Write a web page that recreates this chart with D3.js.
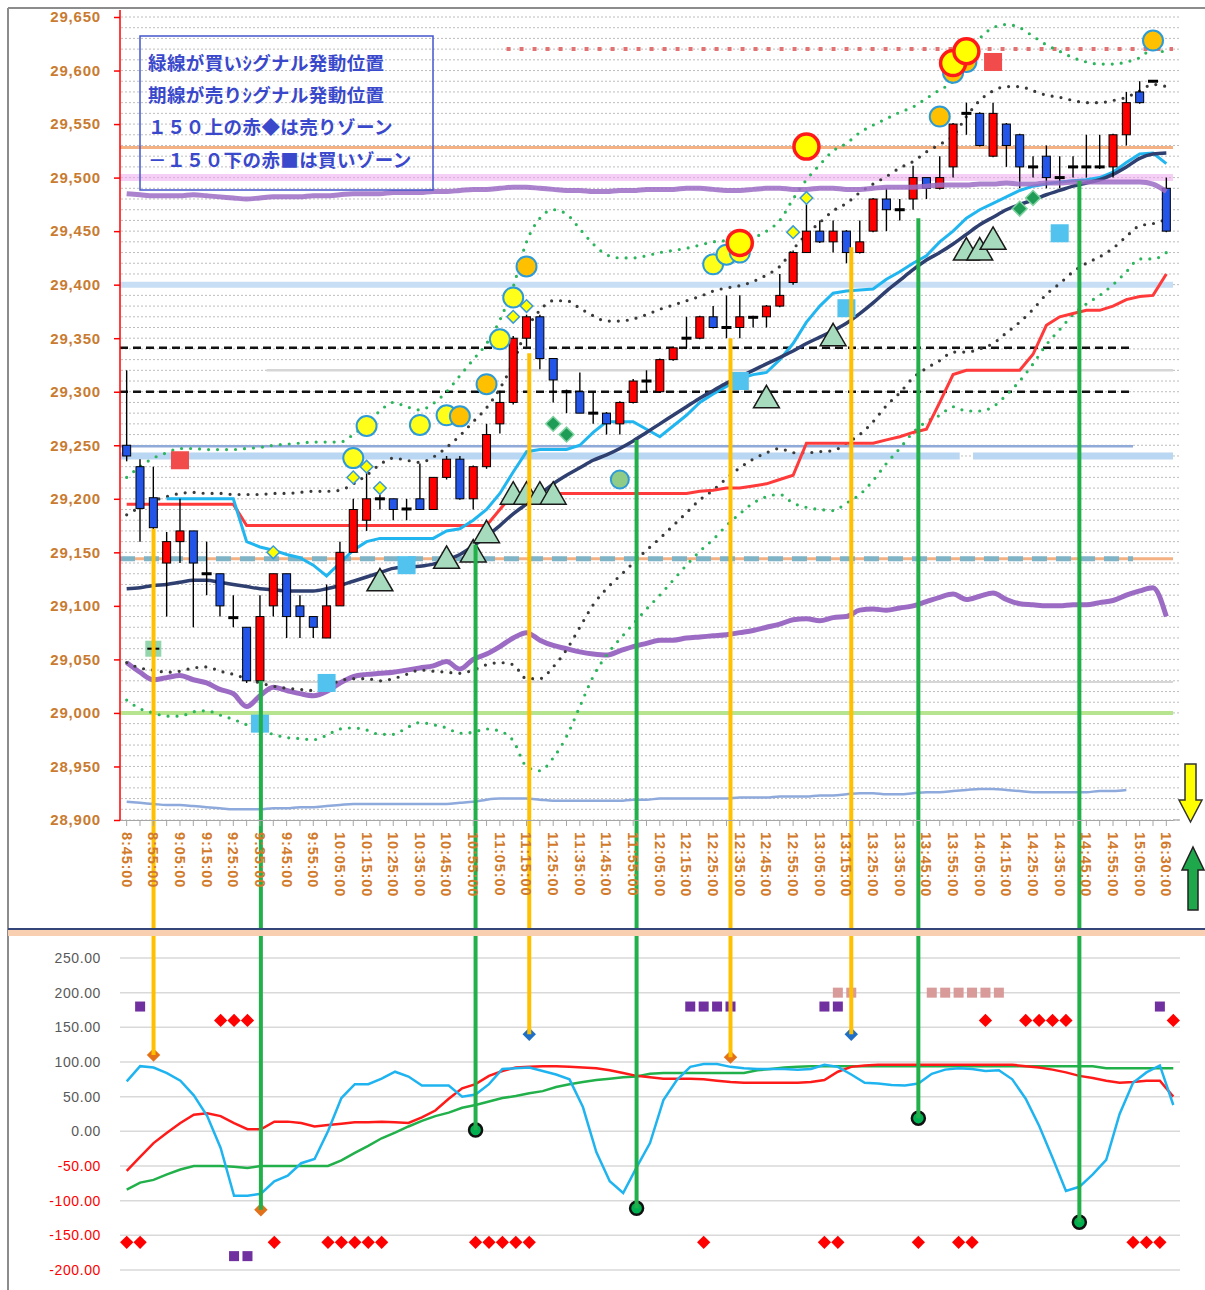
<!DOCTYPE html>
<html>
<head>
<meta charset="utf-8">
<script src="https://cdn.jsdelivr.net/npm/d3@7/dist/d3.min.js"></script>
<style>
  html, body { margin:0; padding:0; background:#ffffff; }
  svg { display:block; }
</style>
</head>
<body>
<svg id="chart" width="1205" height="1290"></svg>
<script>
// ================= DATA =================
const categories = ["8:45:00","8:50:00","8:55:00","9:00:00","9:05:00","9:10:00","9:15:00","9:20:00","9:25:00","9:30:00",
"9:35:00","9:40:00","9:45:00","9:50:00","9:55:00","10:00:00","10:05:00","10:10:00","10:15:00","10:20:00",
"10:25:00","10:30:00","10:35:00","10:40:00","10:45:00","10:50:00","10:55:00","11:00:00","11:05:00","11:10:00",
"11:15:00","11:20:00","11:25:00","11:30:00","11:35:00","11:40:00","11:45:00","11:50:00","11:55:00","12:00:00",
"12:05:00","12:10:00","12:15:00","12:20:00","12:25:00","12:30:00","12:35:00","12:40:00","12:45:00","12:50:00",
"12:55:00","13:00:00","13:05:00","13:10:00","13:15:00","13:20:00","13:25:00","13:30:00","13:35:00","13:40:00",
"13:45:00","13:50:00","13:55:00","14:00:00","14:05:00","14:10:00","14:15:00","14:20:00","14:25:00","14:30:00",
"14:35:00","14:40:00","14:45:00","14:50:00","14:55:00","15:00:00","15:05:00","15:10:00","16:30:00"];

const priceTicks = [28900,28950,29000,29050,29100,29150,29200,29250,29300,29350,29400,29450,29500,29550,29600,29650];
const oscTicks = [250,200,150,100,50,0,-50,-100,-150,-200];

const openP = [29250,29230,29201,29140,29160,29170,29131,29130,29090,29080,
 29030,29100,29130,29100,29090,29070,29100,29150,29180,29199,
 29200,29191,29200,29190,29220,29237,29200,29230,29270,29290,
 29350,29370,29331,29301,29300,29281,29280,29270,29290,29309,
 29300,29330,29349,29350,29370,29361,29360,29370,29370,29380,
 29402,29430,29450,29440,29450,29430,29450,29480,29471,29480,
 29500,29490,29510,29561,29560,29520,29550,29540,29511,29520,
 29501,29511,29511,29511,29510,29540,29580,29590,29490];
const highP = [29320,29237,29230,29169,29200,29170,29160,29130,29110,29080,
 29110,29130,29130,29110,29090,29120,29160,29200,29230,29210,
 29200,29200,29233,29220,29240,29240,29231,29270,29301,29352,
 29372,29372,29331,29302,29318,29300,29281,29291,29312,29320,
 29331,29342,29370,29371,29380,29390,29390,29371,29381,29410,
 29432,29480,29460,29460,29451,29460,29481,29490,29480,29511,
 29500,29520,29551,29570,29561,29570,29551,29541,29520,29530,
 29520,29520,29540,29540,29541,29580,29590,29591,29500];
const lowP = [29235,29160,29150,29090,29140,29080,29110,29090,29080,29028,
 29028,29090,29070,29070,29070,29070,29100,29150,29170,29190,
 29180,29180,29190,29190,29218,29199,29190,29228,29261,29288,
 29342,29321,29290,29280,29280,29270,29260,29260,29289,29300,
 29299,29329,29341,29349,29359,29350,29350,29360,29360,29379,
 29400,29430,29439,29430,29420,29429,29449,29450,29460,29470,
 29480,29489,29500,29540,29529,29519,29510,29490,29500,29490,
 29490,29500,29500,29508,29500,29530,29569,29589,29449];
const closeP = [29240,29191,29173,29160,29170,29140,29129,29100,29088,29030,
 29090,29130,29090,29090,29080,29100,29150,29190,29200,29201,
 29190,29190,29190,29220,29237,29200,29230,29260,29290,29350,
 29370,29331,29311,29299,29280,29279,29270,29290,29310,29311,
 29330,29341,29351,29370,29360,29359,29370,29369,29380,29390,
 29430,29450,29440,29450,29430,29440,29480,29470,29469,29500,
 29490,29500,29550,29559,29530,29560,29530,29510,29509,29500,
 29499,29509,29509,29509,29540,29570,29570,29590,29450];

// moving average (navy)
const maLine = [29116,29117,29119,29120,29122,29124,29124,29122,29120,29118,
 29116,29115,29114,29114,29114,29116,29119,29123,29127,29131,
 29135,29136,29137,29139,29143,29148,29156,29165,29175,29186,
 29195,29204,29214,29222,29229,29236,29241,29247,29254,29262,
 29270,29278,29286,29294,29301,29308,29314,29320,29326,29332,
 29338,29345,29351,29357,29364,29373,29383,29394,29404,29414,
 29423,29430,29438,29447,29456,29463,29470,29475,29479,29484,
 29488,29492,29495,29498,29503,29510,29518,29522,29523];
// outer bands (green dotted)
const bandUpper2 = [29220,29230,29238,29243,29247,29247,29246,29246,29246,29247,
 29248,29250,29251,29252,29253,29253,29253,29260,29270,29282,
 29290,29286,29283,29289,29300,29315,29330,29345,29367,29398,
 29440,29462,29470,29466,29452,29438,29428,29425,29425,29427,
 29430,29432,29434,29437,29440,29441,29442,29444,29450,29460,
 29480,29498,29512,29525,29532,29542,29549,29555,29561,29566,
 29574,29582,29590,29612,29630,29640,29643,29640,29632,29624,
 29618,29612,29608,29606,29606,29608,29612,29620,29616];
const bandLower2 = [29012,29004,29000,28997,28997,29001,29002,28998,28994,28989,
 28984,28980,28977,28976,28975,28979,28985,28986,28984,28980,
 28980,28986,28991,28989,28986,28981,28982,28985,28983,28974,
 28950,28946,28958,28978,29006,29034,29054,29069,29083,29097,
 29110,29124,29138,29151,29162,29175,29186,29196,29202,29204,
 29196,29192,29190,29189,29196,29204,29217,29233,29247,29262,
 29272,29278,29286,29282,29282,29286,29297,29310,29326,29344,
 29358,29372,29382,29390,29400,29412,29424,29424,29430];
// inner bands (black dotted)
const bandUpper1 = [29185,29192,29198,29202,29205,29206,29205,29205,29204,29204,
 29204,29205,29205,29206,29207,29207,29208,29214,29222,29232,
 29238,29236,29234,29239,29248,29259,29272,29285,29303,29327,
 29358,29376,29385,29385,29378,29371,29366,29366,29368,29372,
 29377,29381,29385,29389,29394,29397,29399,29403,29409,29417,
 29433,29447,29458,29469,29476,29486,29494,29501,29509,29515,
 29524,29531,29539,29557,29572,29581,29585,29585,29581,29577,
 29575,29572,29570,29570,29572,29575,29581,29587,29585];
const bandLower1 = [29047,29042,29040,29038,29039,29042,29043,29039,29036,29032,
 29028,29025,29023,29022,29021,29025,29030,29032,29032,29030,
 29032,29036,29040,29039,29038,29037,29040,29045,29047,29045,
 29032,29032,29043,29059,29080,29101,29116,29128,29140,29152,
 29163,29175,29187,29199,29208,29219,29229,29237,29243,29247,
 29243,29243,29244,29245,29252,29260,29272,29287,29299,29313,
 29322,29329,29337,29337,29340,29345,29355,29365,29377,29391,
 29401,29412,29420,29426,29434,29445,29455,29457,29461];
// fast line (light blue)
const fastLine = [null,null,null,29200,29200,29200,29200,29200,29200,29160,
 29155,29152,29148,29145,29138,29128,29140,29152,29160,29163,
 29163,29163,29163,29163,29170,29172,29180,29190,29205,29225,
 29244,29246,29246,29246,29250,29262,29272,29272,29272,29265,
 29258,29268,29278,29290,29298,29305,29312,29316,29318,29330,
 29345,29365,29380,29392,29394,29395,29396,29405,29412,29420,
 29427,29440,29450,29462,29470,29476,29482,29488,29492,29494,
 29496,29497,29498,29500,29505,29514,29522,29523,29513];
// base line (red step)
const baseLine = [29195,29195,29195,29195,29195,29195,29195,29195,29195,29175,
 29175,29175,29175,29175,29175,29175,29175,29175,29175,29175,
 29175,29175,29175,29175,29175,29175,29175,29175,29190,29205,
 29205,29205,29205,29205,29205,29205,29205,29205,29205,29205,
 29205,29205,29205,29207,29208,29210,29210,29212,29214,29218,
 29222,29252,29252,29252,29252,29252,29252,29255,29258,29262,
 29265,29290,29316,29320,29320,29320,29320,29320,29335,29362,
 29370,29373,29376,29376,29380,29386,29389,29390,29410];
// purple lines
const purpleUpper = [29485,29484,29483,29483,29483,29484,29483,29482,29481,29480,
 29481,29482,29482,29482,29483,29483,29484,29485,29485,29485,
 29486,29486,29486,29487,29487,29488,29489,29489,29490,29491,
 29491,29490,29489,29488,29488,29487,29487,29488,29488,29489,
 29489,29489,29490,29490,29489,29488,29488,29489,29490,29490,
 29489,29489,29490,29490,29489,29489,29490,29491,29491,29491,
 29492,29493,29493,29493,29494,29494,29495,29494,29494,29495,
 29495,29496,29496,29496,29496,29496,29496,29494,29487];
const purpleLower = [29047,29038,29031,29033,29035,29031,29028,29022,29018,29006,
 29016,29024,29021,29018,29016,29020,29028,29034,29036,29037,
 29038,29040,29042,29044,29048,29041,29050,29055,29062,29070,
 29075,29068,29063,29060,29057,29055,29054,29058,29062,29065,
 29068,29068,29070,29071,29072,29073,29075,29077,29080,29083,
 29087,29088,29086,29089,29090,29096,29097,29096,29098,29100,
 29104,29108,29111,29106,29109,29112,29106,29102,29101,29100,
 29100,29101,29101,29103,29105,29110,29114,29117,29090];
const bottomLine = [28917,28916,28915,28914,28914,28913,28912,28911,28910,28910,
 28910,28911,28911,28912,28912,28913,28914,28915,28915,28915,
 28915,28915,28915,28915,28915,28916,28917,28919,28920,28920,
 28920,28919,28918,28918,28918,28918,28918,28918,28919,28919,
 28920,28920,28920,28920,28920,28920,28921,28921,28921,28922,
 28922,28922,28923,28923,28924,28925,28925,28924,28924,28925,
 28926,28926,28927,28928,28929,28929,28928,28927,28926,28926,
 28926,28926,28926,28927,28927,28928];

// horizontal reference levels
const levelSellDots = 29620;
const levelOrange = 29528;
const levelPink = 29500;
const levelSky = 29400;
const levelDashA = 29341;
const levelGreyA = 29320;
const levelDashB = 29300;
const levelSteel = 29249;
const levelSkyB = 29240;
const levelTeal = 29144;
const levelGreyB = 29029;
const levelLime = 29000;

// markers on price panel: [category index, value]
const yellowCircles = [[17,29238],[18,29268],[22,29269],[24,29278],[28,29349],[29,29388],[44,29419],[45,29428],[46,29430]];
const orangeCircles = [[25,29277],[27,29307],[30,29417],[61,29557],[62,29598],[63,29608],[77,29628]];
const redRingCircles = [[46,29439],[51,29529],[62,29607],[63,29618]];
const yellowDiamonds = [[11,29150],[17,29220],[18,29230],[19,29210],[29,29370],[30,29380],[50,29449],[51,29481]];
const greenDiamonds = [[32,29270],[33,29260],[67,29471],[68,29481]];
const triangles = [[19,29121],[24,29142],[26,29148],[27,29166],[29,29202],[30,29202],[31,29202],[32,29202],[48,29292],[53,29350],[63,29430],[64,29430],[65,29440]];
const skySquares = [[10,28990],[15,29028],[21,29138],[46,29310],[54,29378],[70,29448]];
const redSquares = [[4,29236],[65,29608]];
const mintSquares = [[2,29060]];
const greenDots = [[37,29218]];

// oscillator panel
const oscFast = [72,94,92,84,73,52,22,-24,-93,-93,
 -90,-72,-64,-46,-40,0,48,68,68,76,
 86,79,66,66,66,50,53,68,90,91,
 92,87,82,75,35,-30,-72,-89,-52,-17,
 45,74,93,97,97,93,91,90,90,90,
 89,90,96,93,82,70,69,67,66,69,
 83,89,91,90,87,88,75,47,8,-38,
 -86,-80,-62,-41,25,70,85,95,38];
const oscMid = [-57,-37,-17,-2,12,24,26,22,12,3,
 3,14,14,12,7,9,11,13,13,14,
 13,12,20,30,47,62,68,80,87,92,
 93,94,94,93,92,91,88,84,80,78,
 76,76,76,75,73,71,70,70,70,70,
 70,71,74,86,93,95,96,96,96,96,
 96,96,96,96,96,96,96,94,92,89,
 85,80,77,73,70,71,73,73,50];
const oscSlow = [-84,-74,-70,-62,-55,-50,-50,-50,-51,-53,
 -50,-50,-50,-50,-50,-50,-42,-31,-21,-10,
 -2,7,15,22,27,34,38,43,48,51,
 55,58,64,68,71,74,76,78,79,83,
 84,84,84,84,84,84,84,88,90,92,
 93,94,94,94,94,94,94,94,94,94,
 94,94,94,94,94,94,94,94,94,94,
 94,94,94,91,91,91,91,91,91];
const sellZoneIdx = [7,8,9,64,67,68,69,70,78];           // red diamonds at +160
const sellZoneValue = 160;
const buyZoneIdx = [0,1,11,15,16,17,18,19,26,27,28,29,30,43,52,53,59,62,63,75,76,77]; // red diamonds at -160
const buyZoneValue = -160;
const purpleMarks = [[1,180],[8,-180],[9,-180],[42,180],[43,180],[44,180],[45,180],[52,180],[53,180],[77,180]];
const pinkMarks = [[53,200],[54,200],[60,200],[61,200],[62,200],[63,200],[64,200],[65,200]];
const orangeMarks = [[2,110],[10,-113],[45,107]];
const blueMarks = [[30,140],[54,140]];
const greenMarks = [[26,2],[38,-111],[59,19],[71,-131]];

// signal connector lines: [category index, price-panel value, oscillator value]
const sellSignals = [[2,29172,110],[30,29336,140],[45,29350,107],[54,29435,140]];
const buySignals = [[10,29030,-113],[26,29157,2],[38,29255,-111],[59,29462,19],[71,29497,-131]];

const legendLines = ["緑線が買いｼグナル発動位置","期線が売りｼグナル発動位置","１５０上の赤◆は売りゾーン","－１５０下の赤■は買いゾーン"];

// ================= SCALES =================
const svg = d3.select("#chart");
svg.append("rect").attr("width",1205).attr("height",1290).attr("fill","#fff");

const xTop = d3.scaleBand().domain(categories).range([120,1173]).padding(0);
const xLow = d3.scaleBand().domain(categories).range([120,1180]).padding(0);
const yTop = d3.scaleLinear().domain([28900,29650]).range([820,17]);
const yLow = d3.scaleLinear().domain([-200,250]).range([1270,958]);
const cx = i => xTop(categories[i]) + xTop.bandwidth()/2;
const cxL = i => xLow(categories[i]) + xLow.bandwidth()/2;

// ================= GRID =================
const grid = svg.append("g");
yTop.ticks(75).forEach(v => {
  grid.append("line").attr("x1",121).attr("x2",1180).attr("y1",yTop(v)).attr("y2",yTop(v))
    .attr("stroke","#bdbdbd").attr("stroke-width",1).attr("stroke-dasharray","2,2");
});
oscTicks.forEach(v => {
  grid.append("line").attr("x1",120).attr("x2",1180).attr("y1",yLow(v)).attr("y2",yLow(v))
    .attr("stroke","#d9d9d9").attr("stroke-width",1.5);
});

// ================= REFERENCE LINES =================
const ref = svg.append("g");
function hline(v, i0, i1, color, width, dash, op) {
  const x0 = i0 === null ? 120 : xTop(categories[i0]);
  const x1 = i1 === null ? 1173 : xTop(categories[i1]) + xTop.bandwidth();
  const l = ref.append("line").attr("x1",x0).attr("x2",x1).attr("y1",yTop(v)).attr("y2",yTop(v))
    .attr("stroke",color).attr("stroke-width",width).attr("opacity", op||1);
  if (dash) l.attr("stroke-dasharray",dash);
}
hline(levelSky, null, null, "#c7def4", 6);
hline(levelSkyB, null, 62, "#b9d6f2", 7);
hline(levelSkyB, 64, null, "#b9d6f2", 7);
hline(levelSteel, null, 75, "#8fa9d9", 2.5);
hline(levelGreyA, 11, null, "#d6d6d6", 2.5);
hline(levelGreyB, 10, null, "#d6d6d6", 2);
hline(levelOrange, null, null, "#f4b183", 3);
hline(levelTeal, null, null, "#f4b183", 3);
hline(levelTeal, null, 75, "#7fb3c6", 5, "15,9");
hline(levelLime, null, null, "#b7e48e", 4);
hline(levelDashA, null, 75, "#111", 2.5, "8,5");
hline(levelDashB, null, 75, "#111", 2.5, "8,5");
hline(levelSellDots, 29, null, "#e27272", 4, "4,9");

// ================= SERIES LINES =================
const lineG = svg.append("g").attr("fill","none");
const mk = (arr, curve) => d3.line().defined(d => d !== null).x((d,i)=>cx(i)).y(d=>yTop(d)).curve(curve||d3.curveLinear)(arr);
lineG.append("path").attr("d", mk(bottomLine, d3.curveMonotoneX)).attr("stroke","#8ea9db").attr("stroke-width",2.5);
lineG.append("path").attr("d", mk(purpleLower, d3.curveMonotoneX)).attr("stroke","#9c6cc4").attr("stroke-width",5).attr("stroke-linejoin","round");
// bands
const dotted = (arr, color) => lineG.append("path").attr("d", mk(arr, d3.curveMonotoneX))
  .attr("stroke",color).attr("stroke-width",3.2).attr("stroke-linecap","round").attr("stroke-dasharray","0,9");
dotted(bandUpper2, "#2db55d");
dotted(bandLower2, "#2db55d");
dotted(bandUpper1, "#3a3a3a");
dotted(bandLower1, "#3a3a3a");
lineG.append("path").attr("d", mk(baseLine)).attr("stroke","#ff3a3a").attr("stroke-width",3);
lineG.append("path").attr("d", mk(fastLine)).attr("stroke","#22b6f0").attr("stroke-width",3);
lineG.append("path").attr("d", mk(maLine, d3.curveMonotoneX)).attr("stroke","#2e3f70").attr("stroke-width",3.5);

// ================= CANDLES =================
const cg = svg.append("g");
const candles = categories.map((c,i) => ({i, o:openP[i], h:highP[i], l:lowP[i], c:closeP[i]}));
cg.selectAll("line.wick").data(candles).join("line").attr("class","wick")
  .attr("x1",d=>cx(d.i)).attr("x2",d=>cx(d.i)).attr("y1",d=>yTop(d.h)).attr("y2",d=>yTop(d.l))
  .attr("stroke","#000").attr("stroke-width",1.4);
cg.selectAll("rect.body").data(candles).join("rect").attr("class","body")
  .attr("x",d=> Math.abs(d.o-d.c) <= 2 ? cx(d.i)-5 : cx(d.i)-4)
  .attr("width",d=> Math.abs(d.o-d.c) <= 2 ? 10 : 8)
  .attr("y",d=> Math.abs(d.o-d.c) <= 2 ? yTop((d.o+d.c)/2)-1.5 : yTop(Math.max(d.o,d.c)))
  .attr("height",d=> Math.abs(d.o-d.c) <= 2 ? 3 : yTop(Math.min(d.o,d.c)) - yTop(Math.max(d.o,d.c)))
  .attr("fill",d=> Math.abs(d.o-d.c) <= 2 ? "#000" : (d.c > d.o ? "#ff0000" : "#2356e8"))
  .attr("stroke",d=> Math.abs(d.o-d.c) <= 2 ? "none" : "#000").attr("stroke-width",1);

// translucent overlays (pink level & upper purple)
hline(levelPink, null, null, "#f0a8ef", 7, null, 0.55);
svg.append("path").attr("d", mk(purpleUpper, d3.curveMonotoneX)).attr("fill","none")
  .attr("stroke","#9c6cc4").attr("stroke-width",5).attr("opacity",0.85);

// ================= PRICE MARKERS =================
const mg = svg.append("g");
const sq = (arr, size, fill, stroke) => mg.selectAll(null).data(arr).join("rect")
  .attr("x",d=>cx(d[0])-size/2).attr("y",d=>yTop(d[1])-size/2).attr("width",size).attr("height",size)
  .attr("fill",fill).attr("stroke",stroke||"none");
sq(skySquares, 18, "#52c2ee");
sq(redSquares, 18, "#f24b4b");
sq(mintSquares, 16, "#93d5ad");
mg.selectAll(null).data(mintSquares).join("line").attr("x1",d=>cx(d[0])-6).attr("x2",d=>cx(d[0])+6)
  .attr("y1",d=>yTop(d[1])).attr("y2",d=>yTop(d[1])).attr("stroke","#000").attr("stroke-width",2);
mg.selectAll(null).data(triangles).join("path")
  .attr("d", d3.symbol(d3.symbolTriangle, 290))
  .attr("transform", d=>`translate(${cx(d[0])},${yTop(d[1])})`)
  .attr("fill","#a6dcbd").attr("stroke","#1a1a1a").attr("stroke-width",1.5);
const diamond = (arr, size, fill, stroke, sw) => mg.selectAll(null).data(arr).join("path")
  .attr("d", d3.symbol(d3.symbolSquare, size))
  .attr("transform", d=>`translate(${cx(d[0])},${yTop(d[1])}) rotate(45)`)
  .attr("fill",fill).attr("stroke",stroke).attr("stroke-width",sw);
diamond(yellowDiamonds, 80, "#ffff00", "#3c9bd6", 1.5);
diamond(greenDiamonds, 110, "#1e9c55", "#7fd1a0", 1.5);
const circ = (arr, r, fill, stroke, sw) => mg.selectAll(null).data(arr).join("circle")
  .attr("cx",d=>cx(d[0])).attr("cy",d=>yTop(d[1])).attr("r",r)
  .attr("fill",fill).attr("stroke",stroke).attr("stroke-width",sw);
circ(greenDots, 9, "#8fcc88", "#2e9bd6", 2);
circ(yellowCircles, 10, "#ffff1a", "#2e9bd6", 2);
circ(orangeCircles, 10, "#ffc000", "#2e9bd6", 2);
circ(redRingCircles, 12.5, "#ffff00", "#ff1a1a", 3.5);

// ================= OSCILLATOR =================
const og = svg.append("g").attr("fill","none");
const mkL = arr => d3.line().x((d,i)=>cxL(i)).y(d=>yLow(d))(arr);
og.append("path").attr("d", mkL(oscSlow)).attr("stroke","#22b04b").attr("stroke-width",2.5);
og.append("path").attr("d", mkL(oscMid)).attr("stroke","#ff1a1a").attr("stroke-width",2.5);
og.append("path").attr("d", mkL(oscFast)).attr("stroke","#1fb4f0").attr("stroke-width",2.5);

const lg = svg.append("g");
const dL = (arr, size, fill) => lg.selectAll(null).data(arr).join("path")
  .attr("d", d3.symbol(d3.symbolSquare, size))
  .attr("transform", d=>`translate(${cxL(d[0])},${yLow(d[1])}) rotate(45)`).attr("fill",fill);
dL(sellZoneIdx.map(i=>[i,sellZoneValue]), 88, "#ff0000");
dL(buyZoneIdx.map(i=>[i,buyZoneValue]), 88, "#ff0000");
lg.selectAll(null).data(purpleMarks).join("rect")
  .attr("x",d=>cxL(d[0])-5).attr("y",d=>yLow(d[1])-5).attr("width",10).attr("height",10).attr("fill","#7030a0");
lg.selectAll(null).data(pinkMarks).join("rect")
  .attr("x",d=>cxL(d[0])-5).attr("y",d=>yLow(d[1])-5).attr("width",10).attr("height",10).attr("fill","#d99a9a");

// signal connector lines
const vg = svg.append("g");
vg.selectAll(null).data(sellSignals).join("line")
  .attr("x1",d=>cxL(d[0])).attr("x2",d=>cxL(d[0])).attr("y1",d=>yTop(d[1])).attr("y2",d=>yLow(d[2]))
  .attr("stroke","#ffc000").attr("stroke-width",4);
vg.selectAll(null).data(buySignals).join("line")
  .attr("x1",d=>cxL(d[0])).attr("x2",d=>cxL(d[0])).attr("y1",d=>yTop(d[1])).attr("y2",d=>yLow(d[2]))
  .attr("stroke","#22b04b").attr("stroke-width",4);
dL(orangeMarks, 90, "#e2711a");
dL(blueMarks, 90, "#1f6fc6");
lg.append("g").selectAll(null).data(greenMarks).join("circle")
  .attr("cx",d=>cxL(d[0])).attr("cy",d=>yLow(d[1])).attr("r",6.5)
  .attr("fill","#00b050").attr("stroke","#111").attr("stroke-width",2.5);

// ================= AXES =================
const gy = svg.append("g").attr("transform","translate(120,0)")
  .call(d3.axisLeft(yTop).tickValues(priceTicks).tickFormat(d3.format(",")).tickSize(6).tickSizeOuter(0).tickPadding(13));
gy.select(".domain").remove();
gy.selectAll(".tick line").attr("stroke","#ff0000").attr("stroke-width",1.5);
gy.selectAll(".tick text").attr("fill","#c97b30")
  .style("font-family","'Liberation Sans', Arial, sans-serif").style("font-weight","bold").style("font-size","15px")
  .attr("letter-spacing","0.8");
svg.append("line").attr("x1",120).attr("x2",120).attr("y1",10).attr("y2",821).attr("stroke","#ff0000").attr("stroke-width",1.5);

const gx = svg.append("g").attr("transform","translate(0,820)")
  .call(d3.axisBottom(xTop).tickSize(6).tickSizeOuter(0).tickFormat((d,i)=> i%2===0 ? d : ""));
gx.select(".domain").attr("stroke","#a6a6a6").attr("stroke-width",1.2);
gx.selectAll(".tick line").attr("stroke","#a6a6a6");
gx.selectAll(".tick text").attr("fill","#d17a2a")
  .style("font-family","'Liberation Sans', Arial, sans-serif").style("font-weight","bold").style("font-size","14.5px")
  .attr("letter-spacing","0.9")
  .attr("transform","rotate(90)").attr("x",12).attr("y",0).attr("dy","0.35em").attr("text-anchor","start");
svg.append("line").attr("x1",1173).attr("x2",1180).attr("y1",820).attr("y2",820).attr("stroke","#a6a6a6").attr("stroke-width",1.2);

const gyl = svg.append("g").attr("transform","translate(120,0)")
  .call(d3.axisLeft(yLow).tickValues(oscTicks).tickFormat(d=>d.toFixed(2)).tickSize(0).tickPadding(19));
gyl.select(".domain").remove();
gyl.selectAll(".tick text").attr("fill",d=> d<0 ? "#ff0000" : "#595959")
  .style("font-family","'Liberation Sans', Arial, sans-serif").style("font-size","14px").attr("letter-spacing","0.6");

// ================= LEGEND BOX =================
const leg = svg.append("g");
leg.append("rect").attr("x",140).attr("y",36).attr("width",293).attr("height",154)
  .attr("fill","none").attr("stroke","#4455cc").attr("stroke-width",1.5);
leg.selectAll(null).data(legendLines).join("text")
  .attr("x",148).attr("y",(d,i)=>70 + i*32.2)
  .attr("fill","#3a48cc")
  .style("font-family","'Noto Sans CJK JP', sans-serif").style("font-weight","bold").style("font-size","18.5px")
  .attr("letter-spacing","0.4")
  .text(d=>d);

// ================= ARROWS =================
svg.append("path").attr("d","M1185,764 L1196,764 L1196,800 L1202,800 L1190.5,822 L1179,800 L1185,800 Z")
  .attr("fill","#ffff00").attr("stroke","#333").attr("stroke-width",1.5);
svg.append("path").attr("d","M1193,847 L1204,870 L1198,870 L1198,910 L1188,910 L1188,870 L1182,870 Z")
  .attr("fill","#1fa84b").attr("stroke","#222").attr("stroke-width",1.5);

// ================= FRAMES =================
svg.append("line").attr("x1",8).attr("x2",1205).attr("y1",8).attr("y2",8).attr("stroke","#8c8c8c").attr("stroke-width",2);
svg.append("line").attr("x1",8).attr("x2",8).attr("y1",8).attr("y2",1290).attr("stroke","#8c8c8c").attr("stroke-width",2);
svg.append("rect").attr("x",8).attr("y",930).attr("width",1197).attr("height",6).attr("fill","#f9cfb2");
svg.append("line").attr("x1",8).attr("x2",1205).attr("y1",929).attr("y2",929).attr("stroke","#34457a").attr("stroke-width",2);
</script>
</body>
</html>
